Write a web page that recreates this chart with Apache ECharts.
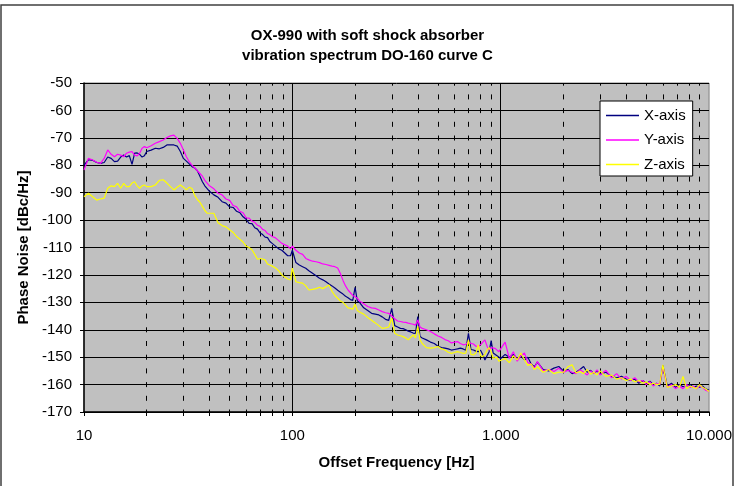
<!DOCTYPE html>
<html>
<head>
<meta charset="utf-8">
<title>OX-990 vibration spectrum</title>
<script src="https://cdn.jsdelivr.net/npm/echarts@6.0.0/dist/echarts.min.js"></script>
<style>
    html, body {margin: 0; padding: 0; background: #fff;}
    #chart {width: 735px; height: 486px;}
</style>
</head>
<body>
<div id="chart"></div>
<script>
// offset frequency [Hz]
var freqs = [
    10, 10.5, 11, 11.5, 12, 12.5, 13, 13.5, 14, 14.5, 15, 15.5, 16, 16.5, 17, 17.5, 18, 18.5, 19, 19.5,
    20, 21, 22, 23, 24, 25, 26, 27, 28, 29, 30, 31, 32, 33, 34, 35, 36, 37, 38, 39,
    40, 42, 44, 46, 48, 50, 52, 54, 56, 58, 60, 62, 64, 66, 68, 70, 72, 74, 76, 78,
    80, 83, 86, 89, 92, 95, 98,
    100, 104, 108, 112, 116, 120,
    125, 130, 135, 140, 145, 150, 155, 160, 165, 170, 175, 180, 185, 190, 195,
    200, 205, 210,
    220, 230, 240, 250, 260, 270, 280, 290, 300, 310, 320, 330, 340, 350, 360, 370, 380, 390,
    400, 410, 420,
    440, 460, 480, 500, 520, 540, 560, 580, 600, 620, 640, 660, 680, 700, 720, 740, 760, 780, 800, 820, 840, 860, 880, 900, 920, 940, 960, 980,
    1000, 1050, 1100, 1150, 1200, 1250, 1300, 1350, 1400, 1450, 1500,
    1600, 1700, 1800, 1900, 2000, 2100, 2200, 2300, 2400, 2500, 2600, 2700, 2800, 2900,
    3000, 3200, 3400, 3600, 3800, 4000, 4200, 4400, 4600, 4800, 5000, 5200, 5400, 5600, 5800,
    6000, 6300, 6600, 6900, 7200, 7500, 7800, 8100, 8400, 8700, 9000, 9300, 9600, 10000
]

// phase noise [dBc/Hz]
var xAxisNoise = [
    -80, -78, -78.2, -79, -79.3, -79, -77, -77.5, -78.7, -78.5, -77, -76.3, -77, -76.5, -79.7, -75.6, -75.5, -76, -77, -76.5,
    -75, -74.5, -73.8, -74, -73.5, -72.6, -72.6, -72.6, -73, -75, -77.5, -78.5, -79.5, -80.5, -81, -82, -84, -86, -87.5, -88.5,
    -89.5, -90.8, -91.7, -93.3, -93.8, -95.2, -95.4, -96.8, -97.3, -98.8, -99.7, -101.2, -101.3, -102.8, -103.3, -104.7, -105.3, -106.2, -106.4, -107.8,
    -108.5, -109.5, -110.5, -111, -112, -113, -113,
    -111, -115.5, -116.4, -117, -117.6, -118.5,
    -119.4, -120.3, -121.2, -121.8, -122.5, -123.3, -124, -124.8, -125.6, -126.3, -127, -127.8, -128.3, -129, -129.3,
    -124.5, -129.5, -130,
    -132, -133, -134, -134.3, -134.6, -135.3, -136.2, -136.6, -132.2, -138.5, -139, -139.5, -139.6, -140, -140.5, -140.8, -141.2, -141.3,
    -135.2, -142.5, -143,
    -143.7, -144.5, -145, -146, -146.5, -146.7, -147, -147.4, -147.2, -147, -146.7, -147, -147.5, -141.3, -147.2, -147.4, -147.8, -148, -147.5, -149, -151, -149.5, -148, -144, -148.5, -149.2, -149.5, -150,
    -150.5, -149, -150, -149, -150.5, -149.5, -151, -150, -152.5, -153.5, -151.8,
    -154.5, -155, -154, -153.4, -155, -154.5, -156, -155.5, -154.5, -153.4, -155.5, -154.8, -156, -155,
    -156.2, -155.5, -157, -157.5, -157, -158, -158.5, -158, -159.5, -158.5, -159.5, -158.8, -160, -159.5, -160.5,
    -153, -160.5, -159.5, -161, -160, -160.8, -160.5, -160, -161, -160.5, -161, -160.5, -161.5, -162
]

var yAxisNoise = [
    -81.7, -77.5, -78.1, -78.9, -79.3, -77.5, -74.4, -76, -76.9, -76, -76.3, -76.9, -75.6, -75.2, -75, -76.3, -76.6, -75.6, -73.8, -73.2,
    -73.6, -72.9, -72, -71.4, -70.8, -69.9, -69.3, -69, -70.2, -72, -74.4, -76.9, -78.7, -80, -81, -82, -83, -84, -85.5, -86.5,
    -87.5, -88.6, -90.2, -90.8, -92.3, -92.8, -94.7, -95.2, -96.8, -97.3, -99.2, -99.3, -100.4, -100.8, -101.9, -102.3, -103.4, -103.8, -104.9, -105.3,
    -106, -106.5, -107.5, -108.5, -109, -109.5, -110.5,
    -109.5, -111, -112, -112.5, -114, -114.5,
    -115, -115.2, -115.5, -116, -116.2, -116.5, -116.8, -117, -117.5, -119.5, -122, -124, -125.5, -126.5, -127.5,
    -128, -128.5, -129.5,
    -130.5, -131.5, -132, -132.2, -132.8, -133.4, -133.8, -134, -135, -136, -136.8, -137, -137.2, -137.3, -137.6, -137.8, -138, -138.3,
    -136.4, -139, -139.5,
    -140, -140.6, -141.5, -142.3, -142.8, -143.6, -144, -144.8, -144.5, -144.3, -145, -145.5, -145.3, -144.5, -145, -145.2, -146, -146.1, -145.5, -144.5, -143.7, -146, -147.4, -146.5, -146.8, -146.8, -147.5, -148,
    -148, -144.5, -150.5, -148, -151.5, -149.5, -148.5, -152, -152.5, -154, -151.6,
    -155, -154.5, -155.2, -154, -155.5, -154.8, -155.5, -156, -154.6, -155.5, -156.5, -155, -156, -154.6,
    -156.5, -154.8, -157.5, -156, -158, -157, -158.5, -157.5, -159, -158.5, -160, -159, -160.5, -159.5, -160,
    -153.5, -161, -160, -161.5, -160.5, -161.5, -160, -161, -160.5, -161.5, -160.5, -161, -162, -162.5
]

var zAxisNoise = [
    -91.5, -90.2, -91.5, -92.7, -92.3, -92, -88.4, -87.5, -87.8, -86.6, -88.4, -86.6, -87.8, -87.8, -86.5, -86, -87.5, -88.4, -87.5, -87.2,
    -87.8, -87.8, -87.2, -85.5, -85.3, -86.5, -87.8, -89, -88, -87.2, -88, -89, -88, -88.5, -91, -92.5, -93.5, -95, -96.5, -97.5,
    -97.5, -97.5, -101, -102, -102.5, -103.5, -104.5, -106, -107, -108, -109.5, -110, -110.8, -112.5, -114.3, -114, -114.2, -114.5, -116, -116.4,
    -116.8, -117.5, -118.5, -120, -120.8, -121.5, -121.8,
    -117.5, -122.5, -122.8, -123, -124, -125.5,
    -125.3, -125, -124.5, -125, -124.3, -123.7, -126, -127.5, -128.5, -129.5, -130, -131, -132, -132.2, -132.5,
    -130.6, -133, -133.5,
    -134.3, -135.5, -136.5, -137.5, -138.5, -139.5, -139.3, -139, -135.8, -141.3, -141.9, -142.2, -142.5, -143, -143.7, -142.8, -141.9, -143,
    -138.8, -143.7, -145,
    -146.5, -146.7, -146.5, -146.1, -147, -147.4, -148.2, -148.6, -148.3, -148, -148.3, -148.6, -148.5, -143.7, -149, -149.2, -148.5, -145.5, -149.5, -149.8, -149, -147.4, -146.5, -148, -150.4, -150.5, -150, -151.5,
    -152.2, -150.5, -152, -149.5, -151, -148.5, -151, -153, -152.5, -154.5, -153.5,
    -155.5, -154.5, -156, -155.5, -155.5, -153.5, -152.8, -155.8, -155.2, -156, -154.5, -156.2, -155.5, -156.5,
    -155, -157, -156.5, -158, -157.5, -158.5, -158, -159, -158.5, -159.5, -159, -160, -159.5, -160, -159.8,
    -152.8, -161, -160.5, -160, -161, -157, -161.5, -160.5, -161, -161.5, -160, -161, -161.5, -162.5
]

// log axis grid: decades solid, the 2..9 lines dashed
var majorFreqs = [100, 1000]
var minorFreqs = [20, 30, 40, 50, 60, 70, 80, 90, 200, 300, 400, 500, 600, 700, 800, 900,
    2000, 3000, 4000, 5000, 6000, 7000, 8000, 9000]
var tickFreqs = [10, 20, 30, 40, 50, 60, 70, 80, 90, 100, 200, 300, 400, 500, 600, 700, 800, 900,
    1000, 2000, 3000, 4000, 5000, 6000, 7000, 8000, 9000, 10000]

var fontName = 'Liberation Sans, Arial, sans-serif'

function pairs(vals) {
    var out = []
    for (var i = 0; i < freqs.length; i++) {
        out.push([freqs[i], vals[i]])
    }
    return out
}

function fmtHz(v) {
    // 1.000 / 10.000 like the original (dot as thousands separator)
    return String(Math.round(v)).replace(/\B(?=(\d{3})+(?!\d))/g, '.')
}

function vLines(list) {
    return list.map(function (f) {
        return {xAxis: f}
    })
}

var chartDom = document.getElementById('chart');
var myChart = echarts.init(chartDom, null, {renderer: 'canvas'});
var option;

option = {
    animation: false,
    backgroundColor: '#ffffff',
    textStyle: {fontFamily: fontName},
    title: {
        text: 'OX-990 with soft shock absorber\nvibration spectrum DO-160 curve C',
        left: 'center',
        top: 21,
        textStyle: {fontSize: 15, fontWeight: 'bold', color: '#000', lineHeight: 20, fontFamily: fontName}
    },
    graphic: [{
        type: 'rect',
        shape: {x: 1, y: 5, width: 732, height: 495},
        style: {fill: 'none', stroke: '#404040', lineWidth: 1.5},
        silent: true
    }],
    legend: {
        data: [
            {name: 'X-axis', icon: 'rect'},
            {name: 'Y-axis', icon: 'rect'},
            {name: 'Z-axis', icon: 'rect'}
        ],
        orient: 'vertical',
        left: 600,
        top: 101,
        z: 10,
        padding: [7, 7, 4, 6],
        itemWidth: 33,
        itemHeight: 1.5,
        itemGap: 9.5,
        itemTextGap: 3,
        backgroundColor: '#ffffff',
        borderColor: '#000000',
        borderWidth: 1,
        borderRadius: 0,
        textStyle: {fontSize: 15, color: '#000', lineHeight: 15, fontFamily: fontName}
    },
    grid: {
        left: 84,
        top: 83,
        right: 24,
        bottom: 74,
        show: true,
        backgroundColor: '#c0c0c0',
        borderColor: '#808080',
        borderWidth: 1
    },
    xAxis: {
        type: 'log',
        logBase: 10,
        min: 10,
        max: 10000,
        name: 'Offset Frequency [Hz]',
        nameLocation: 'middle',
        nameGap: 43,
        nameTextStyle: {fontSize: 15, fontWeight: 'bold', color: '#000', fontFamily: fontName},
        axisLine: {onZero: false, lineStyle: {color: '#000', width: 1.5}},
        axisTick: {show: true, length: 4, customValues: tickFreqs, lineStyle: {color: '#000', width: 1}},
        axisLabel: {
            fontSize: 15,
            color: '#000',
            margin: 16,
            customValues: [10, 100, 1000, 10000],
            formatter: fmtHz
        },
        splitLine: {show: false}
    },
    yAxis: {
        type: 'value',
        min: -170,
        max: -50,
        interval: 10,
        name: 'Phase Noise [dBc/Hz]',
        nameLocation: 'middle',
        nameGap: 49,
        nameTextStyle: {fontSize: 15, fontWeight: 'bold', color: '#000', fontFamily: fontName},
        axisLine: {show: true, onZero: false, lineStyle: {color: '#000', width: 1.5}},
        axisTick: {show: true, length: 4, lineStyle: {color: '#000', width: 1}},
        axisLabel: {fontSize: 15, color: '#000', margin: 12},
        splitLine: {show: true, lineStyle: {color: '#000', width: 1}}
    },
    series: [
        {
            // dashed in-between lines of the log grid
            name: 'minor',
            type: 'line',
            data: [],
            silent: true,
            z: 1,
            markLine: {
                z: 1,
                silent: true,
                symbol: ['none', 'none'],
                label: {show: false},
                animation: false,
                lineStyle: {color: '#000', width: 1, type: [5, 8.7], dashOffset: 2.5},
                emphasis: {disabled: true},
                data: vLines(minorFreqs)
            }
        },
        {
            // solid decade lines
            name: 'major',
            type: 'line',
            data: [],
            silent: true,
            z: 1,
            markLine: {
                z: 1,
                silent: true,
                symbol: ['none', 'none'],
                label: {show: false},
                animation: false,
                lineStyle: {color: '#000', width: 1, type: 'solid'},
                emphasis: {disabled: true},
                data: vLines(majorFreqs)
            }
        },
        {
            name: 'X-axis',
            type: 'line',
            symbol: 'none',
            z: 2,
            color: '#000080',
            lineStyle: {color: '#000080', width: 1.2},
            data: pairs(xAxisNoise)
        },
        {
            name: 'Y-axis',
            type: 'line',
            symbol: 'none',
            z: 2,
            color: '#ff00ff',
            lineStyle: {color: '#ff00ff', width: 1.2},
            data: pairs(yAxisNoise)
        },
        {
            name: 'Z-axis',
            type: 'line',
            symbol: 'none',
            z: 2,
            color: '#ffff00',
            lineStyle: {color: '#ffff00', width: 1.2},
            data: pairs(zAxisNoise)
        }
    ]
};

option && myChart.setOption(option);
</script>
</body>
</html>
